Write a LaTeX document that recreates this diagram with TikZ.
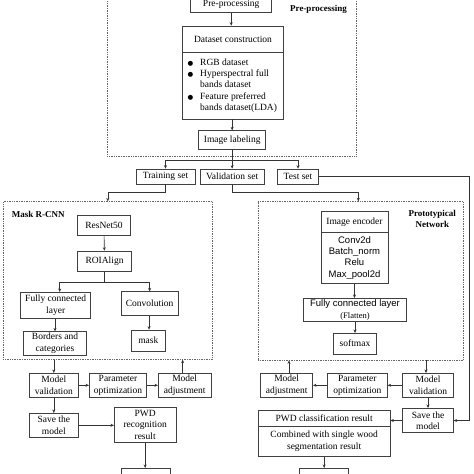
\documentclass[tikz,border=0pt]{standalone}
\usepackage{fontspec}
\setmainfont{Liberation Serif}
\setsansfont{Liberation Sans}
\newfontfamily\dejavu{DejaVu Sans}
\usetikzlibrary{arrows.meta,positioning,calc}
\newcommand\mybul{\makebox[15.5pt][l]{\hspace*{3pt}{\dejavu\fontsize{6.5}{6.5}\selectfont ●}}}
\begin{document}
\begin{tikzpicture}[x=1pt,y=-1pt,
  box/.style={draw=black!75, line width=0.6pt, fill=white, inner sep=0pt, align=center, font=\fontsize{9.5}{11.5}\selectfont},
  grp/.style={draw=black!60, line width=0.7pt, densely dotted, inner sep=0pt},
  arr/.style={draw=black!80, line width=0.6pt, -{Stealth[length=3.5pt,width=3pt]}},
  ln/.style={draw=black!80, line width=0.6pt},
  lbl/.style={font=\bfseries\fontsize{9}{11.3}\selectfont, align=center, inner sep=0pt},
  sbox/.style={box, font=\sffamily\fontsize{9.5}{11.3}\selectfont}
]
\useasboundingbox (0,0) rectangle (474,474);
\fill[white] (0,0) rectangle (474,474);

% group frames
\node[grp, minimum width=249.4pt, minimum height=166.7pt] (topgrp) at (232,73.35) {};
\node[grp, minimum width=209pt, minimum height=157.6pt] (maskgrp) at (107.8,280.5) {};
\node[grp, minimum width=205pt, minimum height=158.3pt] (protogrp) at (360.8,280.85) {};

% top part
\node[box, minimum width=81pt, minimum height=16.7pt] (pre) at (231.2,4.35) {Pre-processing};
\node[lbl] (datalbl) at (318.5,4.35) {Data\\Pre-processing};
\node[box, minimum width=101.4pt, minimum height=26.3pt] (dctitle) at (233,39.15) {Dataset construction};
\node[box, minimum width=101.4pt, minimum height=66.7pt] (dcbody) at (233,85.65) {};
\node[anchor=west, align=left, inner sep=0pt, font=\fontsize{9.5}{11.35}\selectfont] (dctext) at (184.5,85.65)
  {\mybul RGB dataset\\\mybul Hyperspectral full\\\hspace*{15.5pt}bands dataset\\\mybul Feature preferred\\\hspace*{15.5pt}bands dataset(LDA)};
\node[box, minimum width=67pt, minimum height=18.3pt] (il) at (232.2,139.85) {Image labeling};

\node[box, minimum width=59pt, minimum height=15pt] (train) at (165.5,176.5) {Training set};
\node[box, minimum width=63.7pt, minimum height=15pt] (val) at (232.15,176.5) {Validation set};
\node[box, minimum width=40.6pt, minimum height=15pt] (test) at (298,176.5) {Test set};

% Mask R-CNN
\node[lbl, anchor=west] (masklbl) at (11.7,214.3) {Mask R-CNN};
\node[box, minimum width=53.4pt, minimum height=20.7pt] (resnet) at (104,225.35) {ResNet50};
\node[box, minimum width=54.4pt, minimum height=20.7pt] (roi) at (104.5,261.35) {ROIAlign};
\node[box, minimum width=70pt, minimum height=26pt] (fc) at (55.7,305.3) {Fully connected\\layer};
\node[box, minimum width=57.3pt, minimum height=24pt] (conv) at (149.65,303.7) {Convolution};
\node[box, minimum width=63.4pt, minimum height=23.3pt] (borders) at (55,343.35) {Borders and\\categories};
\node[box, minimum width=34.7pt, minimum height=21pt] (mask) at (148.35,340.5) {mask};

% Prototypical network
\node[lbl] (protolbl) at (432.3,218.8) {Prototypical\\Network};
\node[box, minimum width=67pt, minimum height=20.6pt] (enctitle) at (354.5,222) {Image encoder};
\node[sbox, minimum width=67pt, minimum height=51pt] (encbody) at (354.5,257.8) {Conv2d\\Batch\_norm\\Relu\\Max\_pool2d};
\node[box, minimum width=103.4pt, minimum height=23.4pt, font=\sffamily\fontsize{9.5}{12.2}\selectfont] (fcl) at (355,310)
  {Fully connected layer\\{\rmfamily\fontsize{8.5}{10}\selectfont (Flatten)}};
\node[box, minimum width=43.4pt, minimum height=20.7pt] (softmax) at (355,343.65) {softmax};

% bottom left
\node[box, minimum width=49pt, minimum height=24pt] (mv1) at (53.8,385.3) {Model\\validation};
\node[box, minimum width=57.4pt, minimum height=24pt] (po1) at (118,385.3) {Parameter\\optimization};
\node[box, minimum width=52.7pt, minimum height=24pt] (ma1) at (184.65,385.3) {Model\\adjustment};
\node[box, minimum width=49pt, minimum height=24pt] (save1) at (53.8,425.3) {Save the\\model};
\node[box, minimum width=61.7pt, minimum height=35pt] (pwd1) at (145.15,424.8) {PWD\\recognition\\result};
\node[box, minimum width=49pt, minimum height=26.7pt] (bot1) at (146.2,481.65) {};

% bottom right
\node[box, minimum width=52pt, minimum height=24pt] (ma2) at (286.7,385.3) {Model\\adjustment};
\node[box, minimum width=60pt, minimum height=24pt] (po2) at (357.3,385.3) {Parameter\\optimization};
\node[box, minimum width=50.6pt, minimum height=24pt] (mv2) at (428,385.3) {Model\\validation};
\node[box, minimum width=50.6pt, minimum height=24.4pt] (save2) at (428,420.5) {Save the\\model};
\node[box, minimum width=131.7pt, minimum height=16pt] (pwd2t) at (324.15,418) {PWD classification result};
\node[box, minimum width=131.7pt, minimum height=30.7pt] (pwd2b) at (324.15,441.35) {Combined with single wood\\segmentation result};
\node[box, minimum width=48.7pt, minimum height=26.7pt] (bot2) at (323.7,481.65) {};

\coordinate (j0) at (0,160);
\coordinate (j1) at (0,192.3);
\coordinate (j2) at (0,282.3);
\coordinate (rx) at (469.5,0);

% connectors top
\draw[arr] (pre.south) -- (pre.south |- dctitle.north);
\draw[arr] (dcbody.south -| il.north) -- (il.north);
\draw[ln] (il.south) -- (il.south |- j0);
\draw[arr] (il.south |- j0) -| (train.north);
\draw[arr] (il.south |- j0) -| (test.north);
\draw[arr] (val.north |- j0) -- (val.north);
\draw[ln] (train.south) -- (train.south |- j1);
\draw[ln] (val.south) -- (val.south |- j1);
\draw[arr] (train.south |- j1) -| (maskgrp.north);
\draw[arr] (val.south |- j1) -| ([xshift=-2.5pt]protogrp.north);
\draw[arr] (test.east) -- (test.east -| rx) |- (save2.east);

% mask r-cnn
\draw[arr] (resnet) -- (roi);
\draw[ln] (roi.south) -- (roi.south |- j2);
\draw[arr] (roi.south |- j2) -| ([xshift=4pt]fc.north);
\draw[arr] (roi.south |- j2) -| (conv.north);
\draw[arr] (borders.north |- fc.south) -- (borders.north);
\draw[arr] ([xshift=-0.6pt]conv.south) -- ([xshift=-0.6pt]conv.south |- mask.north);

% proto
\draw[arr] (encbody.south) -- (encbody.south |- fcl.north);
\draw[arr] (fcl) -- (softmax);

% bottom left
\draw[arr] (maskgrp.south -| mv1.north) -- (mv1.north);
\draw[arr] (mv1) -- (po1);
\draw[arr] (po1) -- (ma1);
\draw[arr] ([xshift=-2pt]ma1.north) -- ([xshift=-2pt]ma1.north |- maskgrp.south);
\draw[arr] (mv1) -- (save1);
\draw[arr] (save1.east) -- (save1.east -| pwd1.west);
\draw[arr] (pwd1.south) -- (pwd1.south |- bot1.north);

% bottom right
\draw[arr] ([xshift=-2pt]mv2.north |- protogrp.south) -- ([xshift=-2pt]mv2.north);
\draw[arr] (mv2) -- (po2);
\draw[arr] (po2) -- (ma2);
\draw[arr] ([xshift=2.3pt]ma2.north) -- ([xshift=2.3pt]ma2.north |- protogrp.south);
\draw[arr] (mv2) -- (save2);
\draw[arr] (save2.west) -- (save2.west -| pwd2t.east);
\draw[arr] (pwd2b.south) -- (pwd2b.south |- bot2.north);
\end{tikzpicture}
\end{document}
